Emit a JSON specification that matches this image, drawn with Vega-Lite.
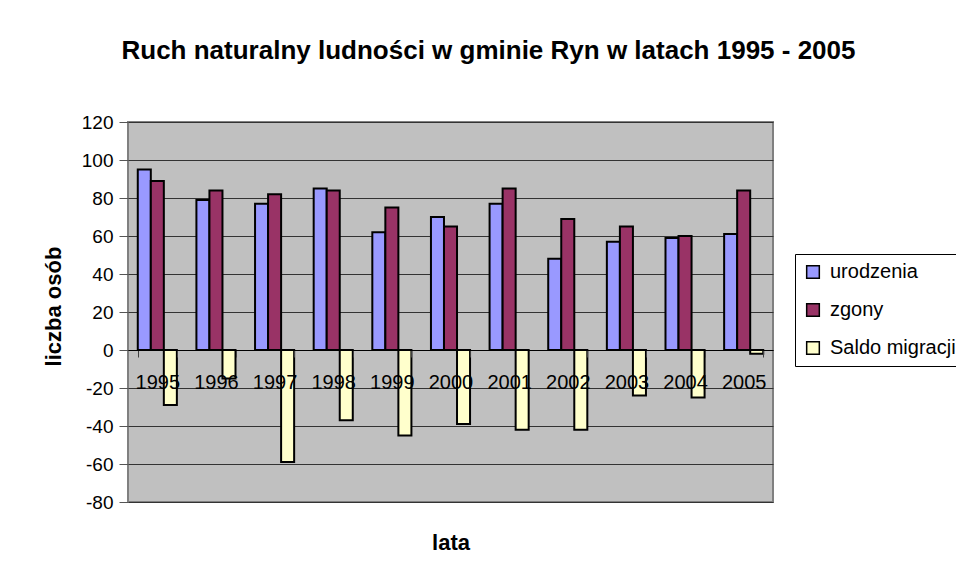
{
  "$schema": "https://vega.github.io/schema/vega-lite/v6.json",
  "width": 645,
  "height": 380,
  "autosize": {"type": "none"},
  "padding": {"left": 128, "top": 122, "right": 183, "bottom": 77},
  "background": "white",
  "title": {
    "text": "Ruch naturalny ludności w gminie Ryn w latach 1995 - 2005",
    "font": "Liberation Sans",
    "fontSize": 26,
    "fontWeight": "bold",
    "color": "black",
    "anchor": "middle",
    "frame": "group",
    "dx": 38,
    "baseline": "alphabetic",
    "offset": 28
  },
  "data": {
    "values": [
      {"rok": "1995", "seria": "urodzenia", "wartosc": 95},
      {"rok": "1995", "seria": "zgony", "wartosc": 89},
      {"rok": "1995", "seria": "Saldo migracji", "wartosc": -29},
      {"rok": "1996", "seria": "urodzenia", "wartosc": 79},
      {"rok": "1996", "seria": "zgony", "wartosc": 84},
      {"rok": "1996", "seria": "Saldo migracji", "wartosc": -15},
      {"rok": "1997", "seria": "urodzenia", "wartosc": 77},
      {"rok": "1997", "seria": "zgony", "wartosc": 82},
      {"rok": "1997", "seria": "Saldo migracji", "wartosc": -59},
      {"rok": "1998", "seria": "urodzenia", "wartosc": 85},
      {"rok": "1998", "seria": "zgony", "wartosc": 84},
      {"rok": "1998", "seria": "Saldo migracji", "wartosc": -37},
      {"rok": "1999", "seria": "urodzenia", "wartosc": 62},
      {"rok": "1999", "seria": "zgony", "wartosc": 75},
      {"rok": "1999", "seria": "Saldo migracji", "wartosc": -45},
      {"rok": "2000", "seria": "urodzenia", "wartosc": 70},
      {"rok": "2000", "seria": "zgony", "wartosc": 65},
      {"rok": "2000", "seria": "Saldo migracji", "wartosc": -39},
      {"rok": "2001", "seria": "urodzenia", "wartosc": 77},
      {"rok": "2001", "seria": "zgony", "wartosc": 85},
      {"rok": "2001", "seria": "Saldo migracji", "wartosc": -42},
      {"rok": "2002", "seria": "urodzenia", "wartosc": 48},
      {"rok": "2002", "seria": "zgony", "wartosc": 69},
      {"rok": "2002", "seria": "Saldo migracji", "wartosc": -42},
      {"rok": "2003", "seria": "urodzenia", "wartosc": 57},
      {"rok": "2003", "seria": "zgony", "wartosc": 65},
      {"rok": "2003", "seria": "Saldo migracji", "wartosc": -24},
      {"rok": "2004", "seria": "urodzenia", "wartosc": 59},
      {"rok": "2004", "seria": "zgony", "wartosc": 60},
      {"rok": "2004", "seria": "Saldo migracji", "wartosc": -25},
      {"rok": "2005", "seria": "urodzenia", "wartosc": 61},
      {"rok": "2005", "seria": "zgony", "wartosc": 84},
      {"rok": "2005", "seria": "Saldo migracji", "wartosc": -2}
    ]
  },
  "mark": {"type": "bar", "stroke": "black", "strokeWidth": 2},
  "encoding": {
    "x": {
      "field": "rok",
      "type": "nominal",
      "scale": {"paddingInner": 0.3333, "paddingOuter": 0.1667},
      "axis": {
        "title": "lata",
        "titleFont": "Liberation Sans",
        "titleFontSize": 22,
        "titleFontWeight": "bold",
        "titleColor": "black",
        "titleX": 322.5,
        "titleY": 199,
        "titleBaseline": "alphabetic",
        "titleAlign": "center",
        "offset": -152,
        "labelAngle": 0,
        "labelFont": "Liberation Sans",
        "labelFontSize": 20,
        "labelColor": "black",
        "labelBaseline": "alphabetic",
        "labelPadding": 31,
        "labelOverlap": false,
        "tickSize": 7,
        "tickColor": "#404040",
        "tickWidth": 1,
        "tickBand": "extent",
        "domainColor": "black",
        "domainWidth": 1,
        "grid": false,
        "zindex": 1
      }
    },
    "xOffset": {
      "field": "seria",
      "type": "nominal",
      "sort": ["urodzenia", "zgony", "Saldo migracji"],
      "scale": {"paddingInner": 0, "paddingOuter": 0}
    },
    "y": {
      "field": "wartosc",
      "type": "quantitative",
      "scale": {"domain": [-80, 120], "nice": false, "zero": false},
      "axis": {
        "title": "liczba osób",
        "titleFont": "Liberation Sans",
        "titleFontSize": 22,
        "titleFontWeight": "bold",
        "titleColor": "black",
        "titleAngle": 270,
        "titleX": -68,
        "titleY": 184,
        "titleAlign": "center",
        "titleBaseline": "alphabetic",
        "values": [-80, -60, -40, -20, 0, 20, 40, 60, 80, 100, 120],
        "labelExpr": "datum.value < 0 ? '-' + abs(datum.value) : '' + datum.value",
        "labelFont": "Liberation Sans",
        "labelFontSize": 19,
        "labelColor": "black",
        "labelPadding": 6,
        "tickSize": 9,
        "tickColor": "#555555",
        "domain": false,
        "grid": true,
        "gridColor": "#333333",
        "gridWidth": 1,
        "zindex": 0
      }
    },
    "color": {
      "field": "seria",
      "type": "nominal",
      "scale": {
        "domain": ["urodzenia", "zgony", "Saldo migracji"],
        "range": ["#9999FF", "#993366", "#FFFFCC"]
      },
      "legend": {
        "title": null,
        "orient": "none",
        "legendX": 667,
        "legendY": 132,
        "fillColor": "white",
        "strokeColor": "black",
        "padding": 8,
        "symbolType": "square",
        "symbolSize": 160,
        "symbolStrokeColor": "black",
        "symbolStrokeWidth": 1.5,
        "labelFont": "Liberation Sans",
        "labelFontSize": 20,
        "labelColor": "black",
        "labelOffset": 7,
        "labelLimit": 300,
        "rowPadding": 18
      }
    }
  },
  "config": {
    "view": {"fill": "#C0C0C0", "stroke": "#808080", "strokeWidth": 2}
  }
}
